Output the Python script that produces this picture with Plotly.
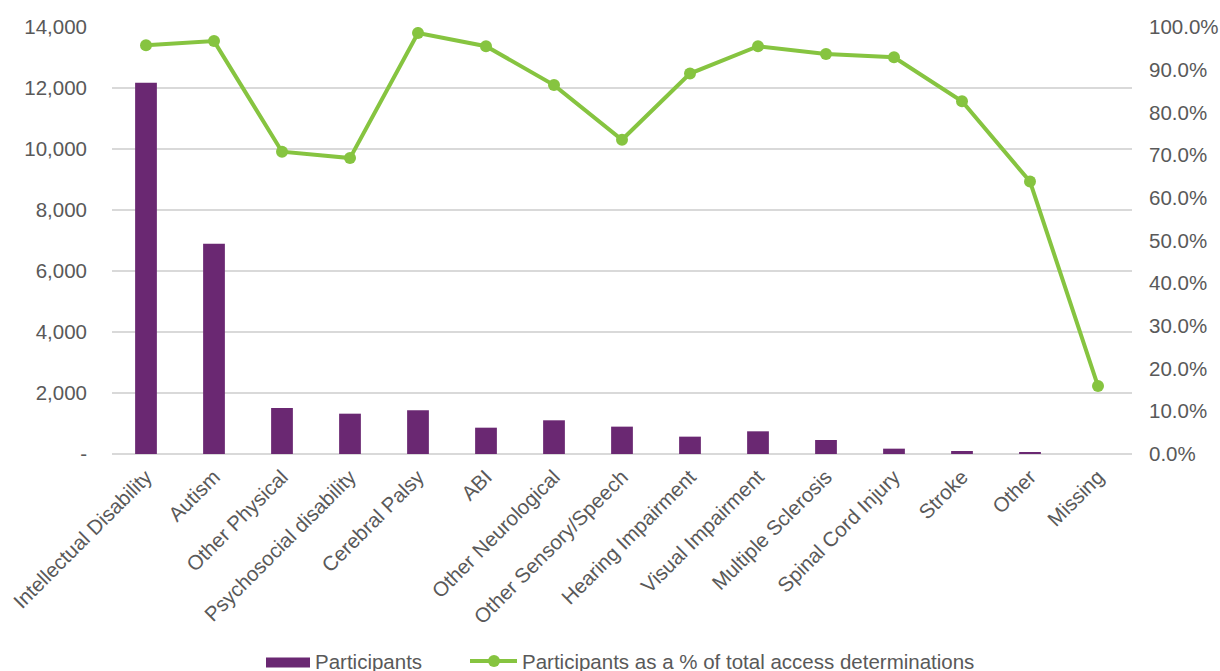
import plotly.graph_objects as go

# Primary disability groups
categories = [
    "Intellectual Disability", "Autism", "Other Physical", "Psychosocial disability",
    "Cerebral Palsy", "ABI", "Other Neurological", "Other Sensory/Speech",
    "Hearing Impairment", "Visual Impairment", "Multiple Sclerosis",
    "Spinal Cord Injury", "Stroke", "Other", "Missing",
]

# Number of participants per group
participants = [12170, 6890, 1505, 1322, 1433, 863, 1105, 897, 569, 744, 459, 175, 98, 35, 0]

# Participants as a % of total access determinations
pct_of_access = [95.7, 96.7, 70.8, 69.3, 98.6, 95.5, 86.4, 73.6, 89.1, 95.5, 93.7, 92.9, 82.6, 63.8, 15.9]

left_ticks = [0, 2000, 4000, 6000, 8000, 10000, 12000, 14000]
left_labels = ["-", "2,000", "4,000", "6,000", "8,000", "10,000", "12,000", "14,000"]
right_ticks = [0, 10, 20, 30, 40, 50, 60, 70, 80, 90, 100]
right_labels = [f"{v:.1f}%" for v in right_ticks]

series_names = ["Participants", "Participants as a % of total access determinations"]

PURPLE = "#6a2872"
GREEN = "#86c440"
TEXT = "#595959"
GRID = "#d9d9d9"
FONT = "Liberation Sans, Arial, sans-serif"
FS = 20.5

W, H = 1220, 671
ML, MR, MT, MB = 112, 88, 27, 217
PW, PH = W - ML - MR, H - MT - MB


def px_x(px):
    """Pixel column -> paper x."""
    return (px - ML) / PW


def px_y(py):
    """Pixel row -> paper y."""
    return (H - MB - py) / PH


fig = go.Figure()
fig.add_trace(go.Bar(
    x=categories, y=participants, name=series_names[0],
    marker=dict(color=PURPLE, line=dict(width=0)),
    width=0.32, yaxis="y",
))
fig.add_trace(go.Scatter(
    x=categories, y=pct_of_access, name=series_names[1],
    mode="lines+markers", yaxis="y2",
    line=dict(color=GREEN, width=4),
    marker=dict(color=GREEN, size=12),
))

# Legend drawn below the category labels
legend_y = 661
shapes = [
    dict(type="rect", xref="paper", yref="paper",
         x0=px_x(266), x1=px_x(310), y0=px_y(667.5), y1=px_y(657.5),
         fillcolor=PURPLE, line=dict(width=0)),
    dict(type="line", xref="paper", yref="paper",
         x0=px_x(470), x1=px_x(517), y0=px_y(legend_y), y1=px_y(legend_y),
         line=dict(color=GREEN, width=4)),
    dict(type="circle", xref="paper", yref="paper",
         x0=px_x(488), x1=px_x(500), y0=px_y(legend_y + 6), y1=px_y(legend_y - 6),
         fillcolor=GREEN, line=dict(width=0)),
]
annotations = [
    dict(text=series_names[0], xref="paper", yref="paper",
         x=px_x(313), y=px_y(legend_y), xanchor="left", yanchor="middle",
         showarrow=False, font=dict(size=FS, color=TEXT, family=FONT)),
    dict(text=series_names[1], xref="paper", yref="paper",
         x=px_x(520), y=px_y(legend_y), xanchor="left", yanchor="middle",
         showarrow=False, font=dict(size=FS, color=TEXT, family=FONT)),
]

fig.update_layout(
    width=W, height=H,
    margin=dict(l=ML, r=MR, t=MT, b=MB),
    paper_bgcolor="white", plot_bgcolor="white",
    font=dict(family=FONT, color=TEXT, size=FS),
    showlegend=False,
    shapes=shapes,
    annotations=annotations,
    xaxis=dict(
        range=[-0.5, len(categories) - 0.5],
        tickangle=-45, tickfont=dict(size=FS, color=TEXT),
        showgrid=False, showline=False, ticks="", automargin=False,
        ticklabelstandoff=6,
    ),
    yaxis=dict(
        range=[0, 14000], tickvals=left_ticks, ticktext=left_labels,
        tickfont=dict(size=FS, color=TEXT), showgrid=True, gridcolor=GRID,
        gridwidth=1.5, zeroline=True, zerolinecolor=GRID, zerolinewidth=1.5,
        showline=False, ticks="", ticklabelstandoff=24, automargin=False,
    ),
    yaxis2=dict(
        range=[0, 100], tickvals=right_ticks, ticktext=right_labels,
        overlaying="y", side="right", showgrid=False, zeroline=False,
        tickfont=dict(size=FS, color=TEXT), showline=False, ticks="",
        ticklabelstandoff=16, automargin=False,
    ),
)

fig.write_html("out.html")
